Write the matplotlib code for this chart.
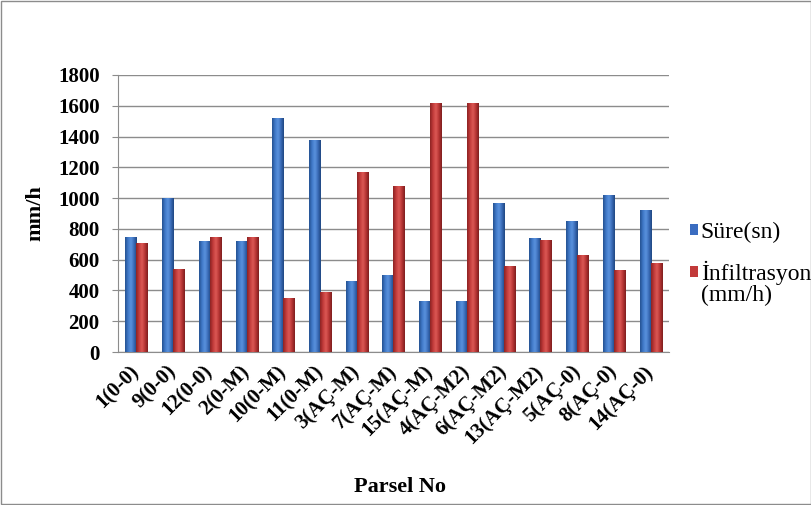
import matplotlib
matplotlib.use("Agg")
import matplotlib.pyplot as plt
import matplotlib.transforms as mtransforms
import numpy as np
from matplotlib.patches import Rectangle
from matplotlib.colors import LinearSegmentedColormap

categories = ["1(0-0)", "9(0-0)", "12(0-0)", "2(0-M)", "10(0-M)", "11(0-M)",
              "3(AÇ-M)", "7(AÇ-M)", "15(AÇ-M)", "4(AÇ-M2)", "6(AÇ-M2)",
              "13(AÇ-M2)", "5(AÇ-0)", "8(AÇ-0)", "14(AÇ-0)"]
sure = [750, 1000, 720, 720, 1520, 1380, 460, 500, 330, 330, 970, 740, 850, 1020, 920]
infiltrasyon = [710, 540, 750, 750, 350, 390, 1170, 1080, 1620, 1620, 560, 730, 630, 530, 580]
yticks = [0, 200, 400, 600, 800, 1000, 1200, 1400, 1600, 1800]

SERIF = ['Liberation Serif', 'DejaVu Serif']
plt.rcParams['font.family'] = SERIF

fig = plt.figure(figsize=(8.12, 5.05), dpi=100)
fig.patches.append(Rectangle((0.001, 0.001), 0.998, 0.997, transform=fig.transFigure,
                             fill=False, edgecolor='#8c8c8c', linewidth=1.0))
ax = fig.add_axes([118/812, 1 - 352/505, (669 - 118)/812, (352 - 75)/505])

x = np.arange(len(categories))
w = 0.3
blue_cmap = LinearSegmentedColormap.from_list('b', ['#24508f', '#3f78c8', '#5b93de', '#3a6cb8', '#1f4680'])
red_cmap = LinearSegmentedColormap.from_list('r', ['#8a2222', '#c23a3a', '#dc5a56', '#b83434', '#7c1e1e'])

b1 = ax.bar(x - w/2, sure, width=w, color='#3a6cc0', edgecolor='none',
            label='Süre(sn)', zorder=3)
b2 = ax.bar(x + w/2, infiltrasyon, width=w, color='#c23a3a', edgecolor='none',
            label='İnfiltrasyon', zorder=3)

grad = np.linspace(0, 1, 64).reshape(1, -1)
for bars, cmap in ((b1, blue_cmap), (b2, red_cmap)):
    for p in bars:
        x0, y0 = p.get_x(), p.get_y()
        im = ax.imshow(grad, cmap=cmap, aspect='auto', zorder=4,
                       extent=(x0, x0 + p.get_width(), y0, y0 + p.get_height()),
                       interpolation='bicubic')
        im.set_clip_path(p)

ax.set_ylim(0, 1800)
ax.set_xlim(-0.5, len(categories) - 0.5)
ax.set_yticks(yticks)
ax.set_yticklabels([str(v) for v in yticks], fontsize=15, fontweight='bold')
ax.set_xticks(x)
ax.set_xticklabels(categories, rotation=45, ha='right', va='center', rotation_mode='anchor',
                   fontsize=15, fontweight='bold')
offset = mtransforms.ScaledTranslation(5/100, 0, fig.dpi_scale_trans)
for lbl in ax.get_xticklabels():
    lbl.set_transform(lbl.get_transform() + offset)
ax.tick_params(axis='x', length=0, pad=12)
ax.tick_params(axis='y', length=4.3, color='#8c8c8c', pad=9)
ax.yaxis.grid(True, color='#8c8c8c', linewidth=1.0, zorder=0)
ax.set_axisbelow(True)
for s in ['top', 'right']:
    ax.spines[s].set_visible(False)
for s in ['left', 'bottom']:
    ax.spines[s].set_color('#8c8c8c')
fig.text(35/812, 1 - 213/505, 'mm/h', rotation=90, ha='center', va='center',
         fontsize=16, fontweight='bold')
fig.text(400/812, 1 - 492/505, 'Parsel No', ha='center', va='baseline',
         fontsize=16, fontweight='bold')

leg = fig.legend(handles=[b1, b2], labels=['Süre(sn)', 'İnfiltrasyon'],
                 loc='upper left', bbox_to_anchor=(690/812, 1 - 222/505), frameon=False,
                 prop={'family': SERIF, 'size': 17}, handlelength=0.36, handleheight=0.36,
                 handletextpad=0.1, labelspacing=0.75, borderpad=0.0, borderaxespad=0.0)

# second line of the second legend entry, placed under its first line
fig.canvas.draw()
t2 = leg.get_texts()[1]
bb = t2.get_window_extent(fig.canvas.get_renderer())
inv = fig.transFigure.inverted()
(fx0, fy0) = inv.transform((bb.x0, bb.y0 - 21))
fig.text(fx0, fy0, '(mm/h)', ha='left', va='bottom', fontsize=17, family=SERIF)

fig.savefig('out.png', dpi=100)
